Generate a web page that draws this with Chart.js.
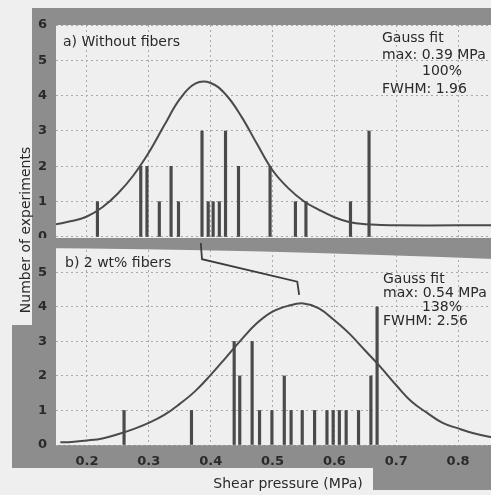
<!DOCTYPE html>
<html>
<head>
<meta charset="utf-8">
<script src="https://cdn.jsdelivr.net/npm/chart.js@4.4.1/dist/chart.umd.min.js"></script>
<style>
  html, body { margin: 0; padding: 0; background: #efefef; overflow: hidden; }
  #wrap { position: relative; width: 491px; height: 495px; overflow: hidden; }
  canvas { display: block; }
</style>
</head>
<body>
<div id="wrap"><canvas id="chart" width="520" height="495"></canvas></div>
<script>
// Axis ticks
const xTicks = [0.2, 0.3, 0.4, 0.5, 0.6, 0.7, 0.8];
const yTopTicks = [0, 1, 2, 3, 4, 5, 6];
const yBotTicks = [0, 1, 2, 3, 4, 5];

// a) without fibers: measured shear pressure (MPa) and number of experiments
const plainPressure = [0.217, 0.287, 0.297, 0.317, 0.336, 0.348, 0.386, 0.396, 0.404, 0.414, 0.424, 0.445, 0.496, 0.537, 0.554, 0.626, 0.656];
const plainCount    = [1, 2, 2, 1, 2, 1, 3, 1, 1, 1, 3, 2, 2, 1, 1, 1, 3];
// Gauss fit of panel a, sampled every 0.025 MPa
const plainFitX = [0.150, 0.175, 0.200, 0.225, 0.250, 0.275, 0.300, 0.325, 0.350, 0.375, 0.400, 0.425, 0.450, 0.475, 0.500, 0.525, 0.550, 0.575, 0.600, 0.625, 0.650, 0.675, 0.700, 0.800, 0.900];
const plainFitY = [0.36, 0.45, 0.58, 0.84, 1.23, 1.74, 2.39, 3.16, 3.90, 4.34, 4.36, 4.02, 3.40, 2.63, 1.89, 1.39, 1.02, 0.77, 0.56, 0.42, 0.36, 0.34, 0.33, 0.33, 0.33];

// b) 2 wt% fibers
const fiberPressure = [0.260, 0.369, 0.438, 0.447, 0.467, 0.479, 0.499, 0.519, 0.530, 0.548, 0.568, 0.588, 0.598, 0.608, 0.619, 0.639, 0.659, 0.669];
const fiberCount    = [1, 1, 3, 2, 3, 1, 1, 2, 1, 1, 1, 1, 1, 1, 1, 1, 2, 4];
// Gauss fit of panel b, sampled every 0.025 MPa
const fiberFitX = [0.157, 0.175, 0.200, 0.225, 0.250, 0.275, 0.300, 0.325, 0.350, 0.375, 0.400, 0.425, 0.450, 0.475, 0.500, 0.525, 0.550, 0.575, 0.600, 0.625, 0.650, 0.675, 0.700, 0.725, 0.750, 0.775, 0.800, 0.825, 0.850, 0.875, 0.900];
const fiberFitY = [0.08, 0.09, 0.13, 0.19, 0.31, 0.46, 0.64, 0.87, 1.19, 1.56, 2.03, 2.54, 3.06, 3.53, 3.86, 4.03, 4.10, 3.96, 3.61, 3.21, 2.73, 2.25, 1.73, 1.25, 0.93, 0.64, 0.48, 0.34, 0.24, 0.17, 0.13];

// Marker linking the two maxima (0.39 MPa -> 0.54 MPa), in panel b units
const shiftX = [0.384, 0.386, 0.540, 0.543];
const shiftY = [5.85, 5.38, 4.73, 4.35];

// Texts
const panelTitles = ['a) Without fibers', 'b) 2 wt% fibers'];
const fitTop = ['Gauss fit', 'max: 0.39 MPa', '100%', 'FWHM: 1.96'];
const fitBot = ['Gauss fit', 'max: 0.54 MPa', '138%', 'FWHM: 2.56'];
const yTitle = 'Number of experiments';
const xTitle = 'Shear pressure (MPa)';

const FONT = '"DejaVu Sans", sans-serif';
const INK = '#2a2a2a';
const FRAME = '#8d8d8d';
const MARK = '#4a4a4a';
const GRID = '#a9a9a9';

const pts = (xs, ys) => xs.map((x, i) => ({ x, y: ys[i] }));

const framePlugin = {
  id: 'frame',
  beforeDraw(chart) {
    const { ctx, chartArea: a, width } = chart;
    ctx.save();
    ctx.fillStyle = FRAME;
    ctx.fillRect(32, 8, width - 32, a.top - 8);          // top band
    ctx.fillRect(32, 8, a.left - 32, a.bottom - 8);      // left strip
    ctx.fillRect(12, 325, a.left - 12, 143);             // lower-left block
    ctx.fillRect(12, a.bottom, width - 12, 23);          // tick label band
    ctx.fillRect(373, a.bottom + 15, width - 373, 30);   // lower-right block
    ctx.restore();
  },
  beforeDatasetsDraw(chart) {
    // band between the two panels
    const { ctx, width, scales } = chart;
    const y0 = scales.yTop.getPixelForValue(0) + 1;
    ctx.save();
    ctx.fillStyle = FRAME;
    ctx.beginPath();
    ctx.moveTo(32, y0);
    ctx.lineTo(width, y0);
    ctx.lineTo(width, y0 + 22);
    ctx.quadraticCurveTo(250, y0 + 11, 32, y0 + 10);
    ctx.closePath();
    ctx.fill();
    ctx.restore();
  },
  afterDatasetsDraw(chart) {
    const { ctx, chartArea: a, scales } = chart;
    ctx.save();
    ctx.fillStyle = INK;
    ctx.font = '14px ' + FONT;
    ctx.textBaseline = 'middle';
    ctx.textAlign = 'left';
    const topY = a.top;
    const botY = scales.yBot.top;
    // panel labels
    ctx.fillText(panelTitles[0], a.left + 7, topY + 17);
    ctx.fillText(panelTitles[1], a.left + 9, botY + 20);
    // fit summaries
    const fx = a.left + 326, cx = a.left + 386;
    const rowsTop = [13, 30, 46, 64];
    const rowsBot = [36, 50, 64, 78];
    fitTop.forEach((t, i) => {
      ctx.textAlign = i === 2 ? 'center' : 'left';
      ctx.fillText(t, i === 2 ? cx : fx, topY + rowsTop[i]);
    });
    fitBot.forEach((t, i) => {
      ctx.textAlign = i === 2 ? 'center' : 'left';
      ctx.fillText(t, i === 2 ? cx : fx + 1, botY + rowsBot[i]);
    });
    // y axis title spanning both panels
    ctx.translate(26, 230);
    ctx.rotate(-Math.PI / 2);
    ctx.textAlign = 'center';
    ctx.fillText(yTitle, 0, 0);
    ctx.restore();
  }
};

const yCommon = {
  type: 'linear',
  position: 'left',
  stack: 'panels',
  grid: { color: GRID, lineWidth: 1, drawTicks: false },
  border: { display: false, dash: [2, 3] },
  ticks: { color: INK, font: { family: FONT, size: 13, weight: 'bold' }, padding: 9 },
  afterFit: (s) => { s.width = 56; }
};

new Chart(document.getElementById('chart'), {
  type: 'bar',
  data: {
    datasets: [
      { type: 'line', data: pts(shiftX, shiftY), yAxisID: 'yBot', borderColor: '#3c3c3c', borderWidth: 1.8,
        pointRadius: 0, tension: 0, fill: false },
      { type: 'line', data: pts(plainFitX, plainFitY), yAxisID: 'yTop', borderColor: MARK, borderWidth: 2,
        pointRadius: 0, tension: 0.4, fill: false },
      { type: 'line', data: pts(fiberFitX, fiberFitY), yAxisID: 'yBot', borderColor: MARK, borderWidth: 2,
        pointRadius: 0, tension: 0.4, fill: false },
      { type: 'bar', data: pts(plainPressure, plainCount), yAxisID: 'yTop', backgroundColor: MARK,
        barThickness: 2.5, grouped: false },
      { type: 'bar', data: pts(fiberPressure, fiberCount), yAxisID: 'yBot', backgroundColor: MARK,
        barThickness: 2.5, grouped: false }
    ]
  },
  options: {
    responsive: false,
    animation: false,
    devicePixelRatio: 1,
    layout: { padding: { top: 25, left: 0, right: 0, bottom: 0 } },
    plugins: { legend: { display: false }, tooltip: { enabled: false } },
    scales: {
      x: {
        type: 'linear',
        min: 0.15,
        max: 0.9,
        offset: false,
        grid: { color: GRID, lineWidth: 1, drawTicks: false, offset: false },
        border: { display: false, dash: [2, 3] },
        ticks: {
          color: INK, font: { family: FONT, size: 13, weight: 'bold' }, padding: 9,
          autoSkip: false, maxRotation: 0, callback: (v) => Number(v).toFixed(1)
        },
        afterBuildTicks: (s) => { s.ticks = xTicks.map(v => ({ value: v })); },
        title: { display: true, text: xTitle, color: INK, font: { family: FONT, size: 14 }, padding: { top: 0, bottom: 2 } },
        afterFit: (s) => { s.height = 50; }
      },
      // the stack places the later-listed axis on top
      yBot: Object.assign({}, yCommon, {
        min: 0, max: 5.85, stackWeight: 202,
        afterBuildTicks: (s) => { s.ticks = yBotTicks.map(v => ({ value: v })); }
      }),
      yTop: Object.assign({}, yCommon, {
        min: -0.17, max: 6, stackWeight: 218,
        afterBuildTicks: (s) => { s.ticks = yTopTicks.map(v => ({ value: v })); }
      })
    }
  },
  plugins: [framePlugin]
});
</script>
</body>
</html>
